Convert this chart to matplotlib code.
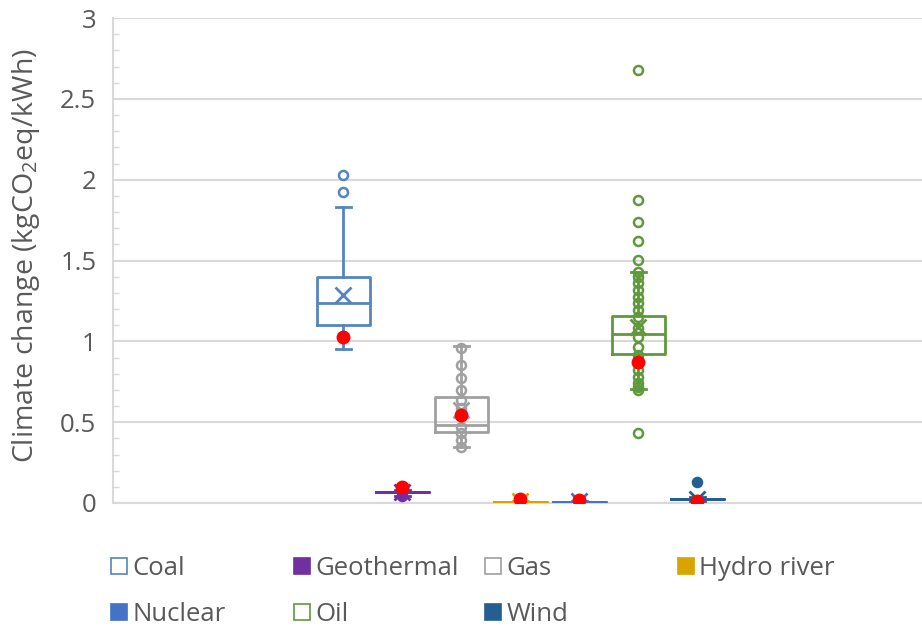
import matplotlib
matplotlib.use("Agg")
import matplotlib.pyplot as plt
from matplotlib.lines import Line2D
import numpy as np

plt.rcParams['font.family'] = ['Open Sans', 'DejaVu Sans']
plt.rcParams['mathtext.fontset'] = 'custom'
plt.rcParams['mathtext.rm'] = 'Open Sans'

categories = ['Coal', 'Geothermal', 'Gas', 'Hydro river', 'Nuclear', 'Oil', 'Wind']
colors = ['#5585BE', '#7030A0', '#A0A0A0', '#D8A400', '#4472C4', '#5E9A3C', '#255E91']
hollow = [True, False, True, False, False, True, False]

q1 = [1.10, 0.066, 0.441, 0.004, 0.004, 0.921, 0.022]
med = [1.235, 0.066, 0.482, 0.004, 0.004, 1.043, 0.022]
q3 = [1.40, 0.066, 0.657, 0.006, 0.006, 1.158, 0.026]
whislo = [0.95, 0.045, 0.348, 0.002, 0.002, 0.703, 0.012]
whishi = [1.833, 0.08, 0.97, 0.010, 0.010, 1.427, 0.035]
means = [1.286, 0.068, 0.575, 0.012, 0.012, 1.09, 0.025]
outliers = [[2.028, 1.921], [], [], [], [], [2.678, 1.874, 1.74, 1.622, 1.503, 0.431], [0.132]]
inner_points = [
    [],
    [0.045, 0.05],
    [0.959, 0.853, 0.773, 0.699, 0.637, 0.587, 0.47, 0.433, 0.39, 0.346],
    [],
    [],
    [1.427, 1.40, 1.36, 1.317, 1.276, 1.235, 1.194, 1.152, 1.08, 1.028, 0.967,
     0.915, 0.87, 0.822, 0.781, 0.74, 0.72, 0.70],
    [],
]
red_points = [1.025, 0.10, 0.544, 0.025, 0.019, 0.874, 0.014]

yticks = [0, 0.5, 1, 1.5, 2, 2.5, 3]
ytick_labels = ['0', '0.5', '1', '1.5', '2', '2.5', '3']

fig = plt.figure(figsize=(9.22, 6.28), dpi=100)
ax = fig.add_axes([113 / 922, (628 - 503) / 628, 1 - 113 / 922, (503 - 18) / 628])

grey_txt = '#595959'
positions = np.arange(len(categories))

for i, cat in enumerate(categories):
    c = colors[i]
    stats = [dict(med=med[i], q1=q1[i], q3=q3[i], whislo=whislo[i], whishi=whishi[i],
                  mean=means[i], fliers=outliers[i], label=cat)]
    mfc = 'none' if hollow[i] else c
    ax.bxp(stats, positions=[positions[i]], widths=0.9, capwidths=0.25,
           showmeans=True, patch_artist=False,
           boxprops=dict(color=c, linewidth=2),
           medianprops=dict(color=c, linewidth=2),
           whiskerprops=dict(color=c, linewidth=2),
           capprops=dict(color=c, linewidth=2),
           meanprops=dict(marker='x', markeredgecolor=c, markersize=11, markeredgewidth=2),
           flierprops=dict(marker='o', markerfacecolor=mfc, markeredgecolor=c,
                           markersize=6.5, markeredgewidth=1.8),
           zorder=3)
    if inner_points[i]:
        ax.plot([positions[i]] * len(inner_points[i]), inner_points[i], linestyle='none',
                marker='o', markerfacecolor=mfc, markeredgecolor=c, markersize=6.5,
                markeredgewidth=1.8, zorder=3)

ax.plot(positions, red_points, linestyle='none', marker='o', color='#FF0000',
        markersize=9, zorder=5)

ax.set_xlim(-3.9, 9.81)
ax.set_ylim(0, 3)
ax.set_yticks(yticks)
ax.set_yticklabels(ytick_labels)
ax.set_yticks(np.arange(0, 3.01, 0.1), minor=True)
ax.set_xticks([])
ax.yaxis.grid(True, which='major', color='#D9D9D9', linewidth=1.5)
ax.set_axisbelow(True)
ax.tick_params(axis='y', which='major', length=0, pad=12, labelsize=18.5, labelcolor=grey_txt)
ax.tick_params(axis='y', which='minor', direction='in', length=4, color='#D9D9D9', width=1)
for s in ['top', 'right']:
    ax.spines[s].set_visible(False)
for s in ['left', 'bottom']:
    ax.spines[s].set_color('#D9D9D9')
    ax.spines[s].set_linewidth(1.5)

ax.set_ylabel(r'Climate change (kgCO$_\mathregular{2}$eq/kWh)', fontsize=20.5, color=grey_txt)
ax.yaxis.set_label_coords(-0.088, 0.51)

# legend: four columns of fixed spacing
cols = [[0, 4], [1, 5], [2, 6], [3]]
col_x = [113, 296, 487, 680]
for xi, idxs in zip(col_x, cols):
    handles = []
    for i in idxs:
        fc = 'white' if hollow[i] else colors[i]
        handles.append(Line2D([], [], linestyle='none', marker='s', markersize=12,
                              markerfacecolor=fc, markeredgecolor=colors[i], markeredgewidth=1.2,
                              label=categories[i]))
    fig.legend(handles=handles, loc='upper left', bbox_to_anchor=(xi / 922, 1 - 556 / 628),
               frameon=False, fontsize=18.5, labelcolor=grey_txt, handlelength=0.5,
               handletextpad=0.25, labelspacing=0.8, borderpad=0, borderaxespad=0)

fig.savefig('out.png', dpi=100)
